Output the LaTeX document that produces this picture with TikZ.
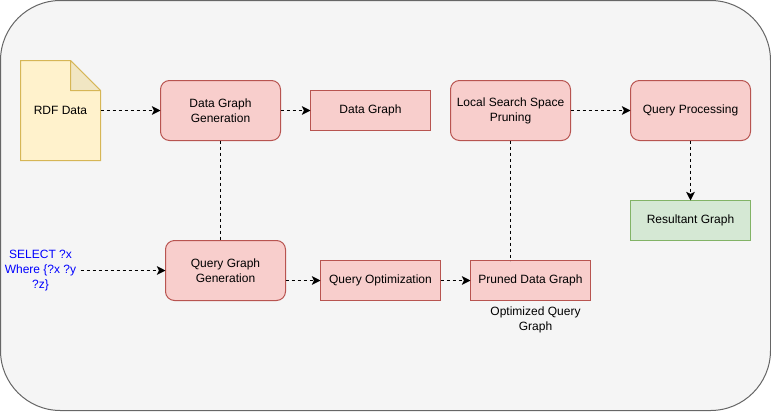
\documentclass[tikz,border=0pt]{standalone}
\usepackage{fontspec}
\setmainfont{Liberation Sans}
\usetikzlibrary{arrows.meta}
\definecolor{redfill}{HTML}{F8CECC}
\definecolor{redline}{HTML}{B85450}
\definecolor{docfill}{HTML}{FFF2CC}
\definecolor{docline}{HTML}{D6B656}
\definecolor{greenfill}{HTML}{D5E8D4}
\definecolor{greenline}{HTML}{82B366}
\definecolor{panelfill}{HTML}{F5F5F5}
\definecolor{panelline}{HTML}{666666}
\definecolor{foldfill}{HTML}{F1E6C3}
\definecolor{querytext}{HTML}{0000FF}
\tikzset{
  x=0.75pt,y=-0.75pt,
  every node/.style={font=\fontsize{9}{11.25}\selectfont,align=center,inner sep=0pt,outer sep=0pt},
  boxbase/.style={draw=redline,fill=redfill,line width=0.75pt,minimum width=90pt,anchor=center},
  plainbox/.style={boxbase,minimum height=30pt},
  roundbox/.style={boxbase,minimum height=45pt,rounded corners=6.75pt},
  greenbox/.style={plainbox,draw=greenline,fill=greenfill},
  flow/.style={draw=black,line width=0.75pt,dash pattern=on 2.25pt off 2.25pt,-{Stealth[length=6.5pt,width=6.5pt,inset=1.6pt]}},
  link/.style={draw=black,line width=0.75pt,dash pattern=on 2.25pt off 2.25pt},
}
\begin{document}
\begin{tikzpicture}
\useasboundingbox (0,0) rectangle (771,411);
\fill[white] (0,0) rectangle (771,411);
\draw[panelline,fill=panelfill,line width=0.75pt,rounded corners=45pt] (0.5,0.5) rectangle (770.5,410.5);

\begin{scope}[shift={(0.5,0.5)}]
\node[minimum width=60pt,minimum height=75pt] (rdf) at (60,110) {};
\draw[docline,fill=docfill,line width=0.75pt]
  (rdf.north west) -- ([xshift=-22.5pt]rdf.north east) -- ([yshift=-22.5pt]rdf.north east)
  -- (rdf.south east) -- (rdf.south west) -- cycle;
\draw[docline,fill=foldfill,line width=0.75pt,line join=round]
  ([xshift=-22.5pt]rdf.north east) -- ([xshift=-22.5pt,yshift=-22.5pt]rdf.north east)
  -- ([yshift=-22.5pt]rdf.north east) -- cycle;
\node (rdftext) at (rdf.center) {RDF Data};

\node[roundbox] (dgg) at (220,110) {Data Graph\\Generation};
\node[plainbox] (dg) at (370,110) {Data Graph};
\node[roundbox] (lssp) at (510,110) {Local Search Space\\Pruning};
\node[roundbox] (qp) at (690,110) {Query Processing};
\node[greenbox] (rg) at (690,220) {Resultant Graph};
\node[roundbox] (qgg) at (225,270) {Query Graph\\Generation};
\node[plainbox] (qo) at (380,280) {Query Optimization};
\node[plainbox] (pdg) at (530,280) {Pruned Data Graph};
\node[minimum width=60pt,text=querytext] (sel) at (40,270) {SELECT ?x\\Where \{?x ?y\\?z\}};
\node (ogl) at (535,319) {Optimized Query\\Graph};

\draw[flow] (rdf.east) -- (dgg.west);
\draw[flow] (dgg.east) -- (dg.west);
\draw[flow] (lssp.east) -- (qp.west);
\draw[flow] (qp.south) -- (rg.north);
\draw[flow] (sel.east) -- (qgg.west);
\draw[flow] (qgg.east |- qo.west) -- (qo.west);
\draw[flow] (qo.east) -- (pdg.west);
\draw[link] (dgg.south) -- (dgg.south |- qgg.north);
\draw[link] (lssp.south) -- (lssp.south |- pdg.north);
\end{scope}
\end{tikzpicture}
\end{document}
